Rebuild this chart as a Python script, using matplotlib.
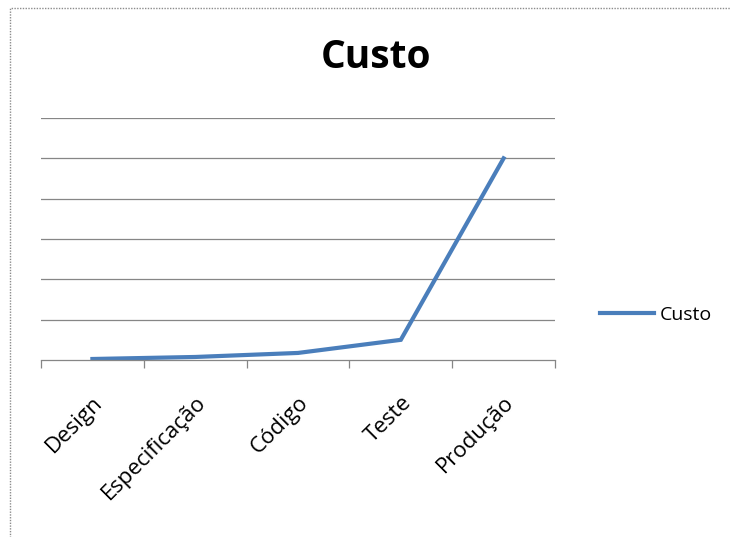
import matplotlib
matplotlib.use("Agg")
import matplotlib.pyplot as plt
from matplotlib.patches import Rectangle

# data
categories = ["Design", "Especificação", "Código", "Teste", "Produção"]
custo = [0.5, 1.5, 3.5, 10, 100]
y_max = 120
grid_step = 20

plt.rcParams["font.family"] = ["Open Sans", "DejaVu Sans"]

fig = plt.figure(figsize=(7.31, 5.37), dpi=100)
ax = fig.add_axes([41 / 731, 1 - 360 / 537, (555 - 41) / 731, (360 - 118) / 537])

x = list(range(len(categories)))
ax.plot(x, custo, color="#4a7ebb", lw=3, label="Custo", solid_joinstyle="miter")

ax.set_xlim(-0.5, len(categories) - 0.5)
ax.set_ylim(0, y_max)
ax.set_yticks(range(grid_step, y_max + 1, grid_step))
ax.yaxis.grid(True, color="#868686", lw=0.9)
ax.tick_params(axis="y", left=False, labelleft=False)

# category ticks between the categories, labels under the centres
ax.set_xticks([i - 0.5 for i in range(len(categories) + 1)])
ax.set_xticklabels([])
ax.set_xticks(x, minor=True)
ax.set_xticklabels(categories, minor=True, rotation=45, ha="right",
                   rotation_mode="anchor", fontsize=16)
ax.tick_params(axis="x", which="major", direction="out", length=6,
               color="#868686", width=0.9)
ax.tick_params(axis="x", which="minor", length=0, pad=23)

for side in ["top", "right", "left"]:
    ax.spines[side].set_visible(False)
ax.spines["bottom"].set_color("#868686")
ax.spines["bottom"].set_linewidth(0.9)

fig.text(376 / 731, 1 - 58 / 537, "Custo", ha="center", va="center",
         fontsize=28, fontweight="bold")

fig.legend(loc="center left", bbox_to_anchor=(582 / 731, 1 - 315 / 537),
           frameon=False, fontsize=14, handlelength=2.8, handletextpad=0.3)

# dotted chart-area border
fig.patches.append(Rectangle((10 / 731, -0.1), 1.1, 1.1 - 8 / 537,
                             transform=fig.transFigure, fill=False,
                             ec="#8c8c8c", lw=1, ls=(0, (1, 1))))

fig.savefig("out.png", dpi=100)
